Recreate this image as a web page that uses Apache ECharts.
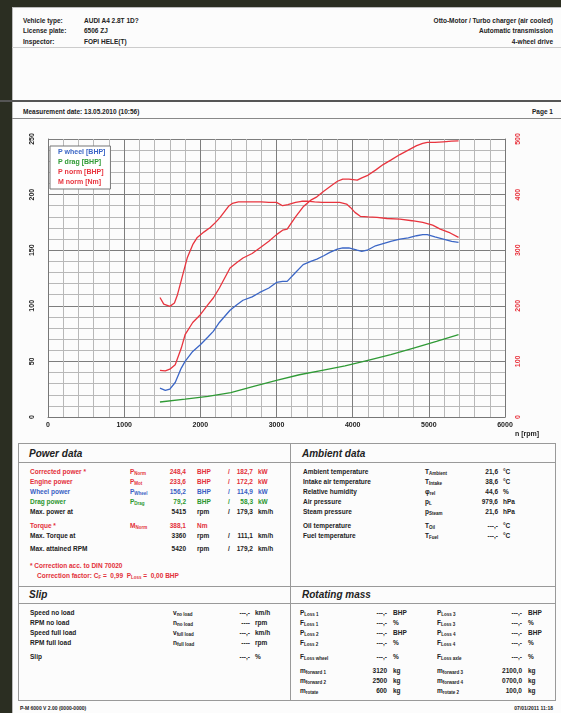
<!DOCTYPE html>
<html>
<head>
<meta charset="utf-8">
<script src="https://cdn.jsdelivr.net/npm/echarts@6/dist/echarts.min.js"></script>
<style>
  body { margin: 0; }
  #page { position: relative; width: 561px; height: 713px; overflow: hidden; background: #2b2e22; font-family: "Liberation Sans", Arial, sans-serif; }
  #paper { position: absolute; left: 12px; top: 7px; right: 0; bottom: 0; background: #fcfcfc; border-left: 1px solid #bbb; border-top: 1px solid #bbb; }
  .t { position: absolute; font-size: 6.5px; font-weight: bold; color: #222; white-space: nowrap; line-height: 8px; }
  .r { text-align: right; }
  .h { position: absolute; font-size: 10px; font-style: italic; font-weight: bold; color: #222; }
  .ln { position: absolute; background: #999; }
  .red { color: #e3303a; } .blue { color: #3a5fc4; } .green { color: #2a962e; }
  sub { font-size: 4.5px; vertical-align: -1px; }
  #chart { position: absolute; left: 0; top: 0; width: 561px; height: 713px; }
</style>
</head>
<body>
<div id="page">
  <div id="paper"></div>
  <!-- header -->
  <div class="t" style="left:23px;top:17px">Vehicle type:</div>
  <div class="t" style="left:84px;top:17px">AUDI A4 2.8T 1D?</div>
  <div class="t" style="left:23px;top:27px">License plate:</div>
  <div class="t" style="left:84px;top:27px">6506 ZJ</div>
  <div class="t" style="left:23px;top:38px">Inspector:</div>
  <div class="t" style="left:84px;top:38px">FOPI HELE(T)</div>
  <div class="t r" style="right:8px;top:17px">Otto-Motor / Turbo charger (air cooled)</div>
  <div class="t r" style="right:8px;top:27px">Automatic transmission</div>
  <div class="t r" style="right:8px;top:38px">4-wheel drive</div>
  <div class="ln" style="left:12px;right:0;top:47px;height:1px;background:#ccc"></div>
  <div class="ln" style="left:0;right:0;top:100px;height:2px;background:#555"></div>
  <div class="t" style="left:23px;top:108px">Measurement date: 13.05.2010 (10:56)</div>
  <div class="t r" style="right:8px;top:108px">Page 1</div>
  <div class="ln" style="left:12px;right:0;top:118px;height:1px;background:#888"></div>

  <!-- boxes -->
  <div class="ln" style="left:18px;width:538px;top:443px;height:1px"></div>
  <div class="ln" style="left:18px;width:538px;top:462px;height:1px"></div>
  <div class="ln" style="left:18px;width:538px;top:586px;height:1px"></div>
  <div class="ln" style="left:18px;width:538px;top:603px;height:1px"></div>
  <div class="ln" style="left:18px;width:538px;top:700px;height:1px"></div>
  <div class="ln" style="left:18px;width:1px;top:443px;height:258px"></div>
  <div class="ln" style="left:290px;width:1px;top:443px;height:258px"></div>
  <div class="ln" style="left:555px;width:1px;top:443px;height:258px"></div>

  <div class="h" style="left:29px;top:448px">Power data</div>
  <div class="t red" style="left:30px;top:468px">Corrected power *</div>
  <div class="t red" style="left:130px;top:468px">P<sub>Norm</sub></div>
  <div class="t red r" style="left:150px;width:36px;top:468px">248,4</div>
  <div class="t red" style="left:197px;top:468px">BHP</div>
  <div class="t red" style="left:228px;top:468px">/</div>
  <div class="t red r" style="left:220px;width:33px;top:468px">182,7</div>
  <div class="t red" style="left:258px;top:468px">kW</div>

  <div class="t red" style="left:30px;top:478px">Engine power</div>
  <div class="t red" style="left:130px;top:478px">P<sub>Mot</sub></div>
  <div class="t red r" style="left:150px;width:36px;top:478px">233,6</div>
  <div class="t red" style="left:197px;top:478px">BHP</div>
  <div class="t red" style="left:228px;top:478px">/</div>
  <div class="t red r" style="left:220px;width:33px;top:478px">172,2</div>
  <div class="t red" style="left:258px;top:478px">kW</div>

  <div class="t blue" style="left:30px;top:488px">Wheel power</div>
  <div class="t blue" style="left:130px;top:488px">P<sub>Wheel</sub></div>
  <div class="t blue r" style="left:150px;width:36px;top:488px">156,2</div>
  <div class="t blue" style="left:197px;top:488px">BHP</div>
  <div class="t blue" style="left:228px;top:488px">/</div>
  <div class="t blue r" style="left:220px;width:33px;top:488px">114,9</div>
  <div class="t blue" style="left:258px;top:488px">kW</div>

  <div class="t green" style="left:30px;top:498px">Drag power</div>
  <div class="t green" style="left:130px;top:498px">P<sub>Drag</sub></div>
  <div class="t green r" style="left:150px;width:36px;top:498px">79,2</div>
  <div class="t green" style="left:197px;top:498px">BHP</div>
  <div class="t green" style="left:228px;top:498px">/</div>
  <div class="t green r" style="left:220px;width:33px;top:498px">58,3</div>
  <div class="t green" style="left:258px;top:498px">kW</div>

  <div class="t" style="left:30px;top:508px">Max. power at</div>
  <div class="t r" style="left:150px;width:36px;top:508px">5415</div>
  <div class="t" style="left:197px;top:508px">rpm</div>
  <div class="t" style="left:228px;top:508px">/</div>
  <div class="t r" style="left:220px;width:33px;top:508px">179,3</div>
  <div class="t" style="left:258px;top:508px">km/h</div>

  <div class="t red" style="left:30px;top:522px">Torque *</div>
  <div class="t red" style="left:130px;top:522px">M<sub>Norm</sub></div>
  <div class="t red r" style="left:150px;width:36px;top:522px">388,1</div>
  <div class="t red" style="left:197px;top:522px">Nm</div>

  <div class="t" style="left:30px;top:532px">Max. Torque at</div>
  <div class="t r" style="left:150px;width:36px;top:532px">3360</div>
  <div class="t" style="left:197px;top:532px">rpm</div>
  <div class="t" style="left:228px;top:532px">/</div>
  <div class="t r" style="left:220px;width:33px;top:532px">111,1</div>
  <div class="t" style="left:258px;top:532px">km/h</div>

  <div class="t" style="left:30px;top:545px">Max. attained RPM</div>
  <div class="t r" style="left:150px;width:36px;top:545px">5420</div>
  <div class="t" style="left:197px;top:545px">rpm</div>
  <div class="t" style="left:228px;top:545px">/</div>
  <div class="t r" style="left:220px;width:33px;top:545px">179,2</div>
  <div class="t" style="left:258px;top:545px">km/h</div>

  <div class="t red" style="left:30px;top:562px">* Correction acc. to DIN 70020</div>
  <div class="t red" style="left:37px;top:572px">Correction factor: C<sub>F</sub> = &nbsp;0,99 &nbsp;P<sub>Loss</sub> = &nbsp;0,00 BHP</div>

  <div class="h" style="left:302px;top:448px">Ambient data</div>
  <div class="t" style="left:303px;top:468px">Ambient temperature</div>
  <div class="t" style="left:425px;top:468px">T<sub>Ambient</sub></div>
  <div class="t r" style="left:470px;width:28px;top:468px">21,6</div>
  <div class="t" style="left:503px;top:468px">°C</div>
  <div class="t" style="left:303px;top:478px">Intake air temperature</div>
  <div class="t" style="left:425px;top:478px">T<sub>Intake</sub></div>
  <div class="t r" style="left:470px;width:28px;top:478px">38,6</div>
  <div class="t" style="left:503px;top:478px">°C</div>
  <div class="t" style="left:303px;top:488px">Relative humidity</div>
  <div class="t" style="left:425px;top:488px">φ<sub>rel</sub></div>
  <div class="t r" style="left:470px;width:28px;top:488px">44,6</div>
  <div class="t" style="left:503px;top:488px">%</div>
  <div class="t" style="left:303px;top:498px">Air pressure</div>
  <div class="t" style="left:425px;top:498px">p<sub>L</sub></div>
  <div class="t r" style="left:470px;width:28px;top:498px">979,6</div>
  <div class="t" style="left:503px;top:498px">hPa</div>
  <div class="t" style="left:303px;top:508px">Steam pressure</div>
  <div class="t" style="left:425px;top:508px">p<sub>Steam</sub></div>
  <div class="t r" style="left:470px;width:28px;top:508px">21,6</div>
  <div class="t" style="left:503px;top:508px">hPa</div>
  <div class="t" style="left:303px;top:522px">Oil temperature</div>
  <div class="t" style="left:425px;top:522px">T<sub>Oil</sub></div>
  <div class="t r" style="left:470px;width:28px;top:522px">---,-</div>
  <div class="t" style="left:503px;top:522px">°C</div>
  <div class="t" style="left:303px;top:532px">Fuel temperature</div>
  <div class="t" style="left:425px;top:532px">T<sub>Fuel</sub></div>
  <div class="t r" style="left:470px;width:28px;top:532px">---,-</div>
  <div class="t" style="left:503px;top:532px">°C</div>

  <div class="h" style="left:29px;top:589px">Slip</div>
  <div class="t" style="left:30px;top:609px">Speed no load</div>
  <div class="t" style="left:173px;top:609px">v<sub>no load</sub></div>
  <div class="t r" style="left:220px;width:30px;top:609px">---,-</div>
  <div class="t" style="left:255px;top:609px">km/h</div>
  <div class="t" style="left:30px;top:619px">RPM no load</div>
  <div class="t" style="left:173px;top:619px">n<sub>no load</sub></div>
  <div class="t r" style="left:220px;width:30px;top:619px">----</div>
  <div class="t" style="left:255px;top:619px">rpm</div>
  <div class="t" style="left:30px;top:629px">Speed full load</div>
  <div class="t" style="left:173px;top:629px">v<sub>full load</sub></div>
  <div class="t r" style="left:220px;width:30px;top:629px">---,-</div>
  <div class="t" style="left:255px;top:629px">km/h</div>
  <div class="t" style="left:30px;top:639px">RPM full load</div>
  <div class="t" style="left:173px;top:639px">n<sub>full load</sub></div>
  <div class="t r" style="left:220px;width:30px;top:639px">----</div>
  <div class="t" style="left:255px;top:639px">rpm</div>
  <div class="t" style="left:30px;top:653px">Slip</div>
  <div class="t r" style="left:220px;width:30px;top:653px">---,-</div>
  <div class="t" style="left:255px;top:653px">%</div>

  <div class="h" style="left:302px;top:589px">Rotating mass</div>
  <div class="t" style="left:300px;top:609px">P<sub>Loss 1</sub></div>
  <div class="t r" style="left:355px;width:32px;top:609px">---,-</div>
  <div class="t" style="left:393px;top:609px">BHP</div>
  <div class="t" style="left:300px;top:619px">F<sub>Loss 1</sub></div>
  <div class="t r" style="left:355px;width:32px;top:619px">---,-</div>
  <div class="t" style="left:393px;top:619px">%</div>
  <div class="t" style="left:300px;top:629px">P<sub>Loss 2</sub></div>
  <div class="t r" style="left:355px;width:32px;top:629px">---,-</div>
  <div class="t" style="left:393px;top:629px">BHP</div>
  <div class="t" style="left:300px;top:639px">F<sub>Loss 2</sub></div>
  <div class="t r" style="left:355px;width:32px;top:639px">---,-</div>
  <div class="t" style="left:393px;top:639px">%</div>
  <div class="t" style="left:300px;top:653px">F<sub>Loss wheel</sub></div>
  <div class="t r" style="left:355px;width:32px;top:653px">---,-</div>
  <div class="t" style="left:393px;top:653px">%</div>
  <div class="t" style="left:300px;top:667px">m<sub>forward 1</sub></div>
  <div class="t r" style="left:355px;width:32px;top:667px">3120</div>
  <div class="t" style="left:393px;top:667px">kg</div>
  <div class="t" style="left:300px;top:677px">m<sub>forward 2</sub></div>
  <div class="t r" style="left:355px;width:32px;top:677px">2500</div>
  <div class="t" style="left:393px;top:677px">kg</div>
  <div class="t" style="left:300px;top:687px">m<sub>rotate</sub></div>
  <div class="t r" style="left:355px;width:32px;top:687px">600</div>
  <div class="t" style="left:393px;top:687px">kg</div>

  <div class="t" style="left:437px;top:609px">P<sub>Loss 3</sub></div>
  <div class="t r" style="left:490px;width:32px;top:609px">---,-</div>
  <div class="t" style="left:528px;top:609px">BHP</div>
  <div class="t" style="left:437px;top:619px">F<sub>Loss 3</sub></div>
  <div class="t r" style="left:490px;width:32px;top:619px">---,-</div>
  <div class="t" style="left:528px;top:619px">%</div>
  <div class="t" style="left:437px;top:629px">P<sub>Loss 4</sub></div>
  <div class="t r" style="left:490px;width:32px;top:629px">---,-</div>
  <div class="t" style="left:528px;top:629px">BHP</div>
  <div class="t" style="left:437px;top:639px">F<sub>Loss 4</sub></div>
  <div class="t r" style="left:490px;width:32px;top:639px">---,-</div>
  <div class="t" style="left:528px;top:639px">%</div>
  <div class="t" style="left:437px;top:653px">F<sub>Loss axle</sub></div>
  <div class="t r" style="left:490px;width:32px;top:653px">---,-</div>
  <div class="t" style="left:528px;top:653px">%</div>
  <div class="t" style="left:437px;top:667px">m<sub>forward 3</sub></div>
  <div class="t r" style="left:490px;width:32px;top:667px">2100,0</div>
  <div class="t" style="left:528px;top:667px">kg</div>
  <div class="t" style="left:437px;top:677px">m<sub>forward 4</sub></div>
  <div class="t r" style="left:490px;width:32px;top:677px">0700,0</div>
  <div class="t" style="left:528px;top:677px">kg</div>
  <div class="t" style="left:437px;top:687px">m<sub>rotate 2</sub></div>
  <div class="t r" style="left:490px;width:32px;top:687px">100,0</div>
  <div class="t" style="left:528px;top:687px">kg</div>

  <div class="t" style="left:20px;top:704px;font-size:5px">P-M 6000 V 2.00 (0000-0000)</div>
  <div class="t r" style="right:8px;top:704px;font-size:5px">07/01/2011 11:18</div>

  <div id="chart"></div>
</div>
<script>
// engine speed samples (rpm) for the power curves
var rpmPower = [1470,1540,1600,1670,1750,1800,1900,2000,2100,2170,2250,2390,2480,2560,2680,2780,2900,3000,3080,3140,3250,3350,3450,3530,3620,3700,3800,3870,3950,4060,4120,4190,4300,4400,4500,4620,4730,4840,4920,4980,5080,5190,5300,5390];
var pNorm  = [42,41.5,43,47,62,74,85,92,101,107,116,134,139,143,147,152,158,164,168,169,180,189,195,198,203,207,212,214,214,213,215,217,222,227,231,236,240,244,246,247,247,247.5,248,248.4];
var pWheel = [26,24,25,31,44,50,59,65,72,77,85,96,101,105,108,112,116,121,122,122,130,137,140,142,145,148,151,152,152,150,149,150,154,156,158,160,161,163,164,164,162,160,158,157];
var rpmDrag = [1470,1800,2100,2400,2700,3000,3300,3600,3900,4200,4500,4800,5100,5390];
var pDrag   = [13.5,16,18.5,22,27.5,33,38,42,46,51,56,62,68,74];
var rpmTorque = [1470,1520,1600,1660,1700,1760,1830,1900,1960,2050,2130,2200,2260,2320,2370,2420,2500,2600,2700,2800,2900,3000,3080,3150,3250,3330,3400,3500,3600,3700,3830,3920,3970,4030,4100,4200,4320,4450,4620,4780,4920,5050,5150,5280,5390];
var mNorm = [215,203,199,205,220,251,287,310,323,333,341,350,359,370,379,384,387,387,387,387,386,386,380,382,386,388,388.1,387,386,386,386,383,377,368,361,360,359,357,356,353,350,345,338,331,323];
var legendNames = ['P wheel [BHP]','P drag [BHP]','P norm [BHP]','M norm [Nm]'];

var RED = '#e8343e', BLUE = '#3b66c6', GREEN = '#2f9a35';

function pairs(xs, ys) {
  return xs.map(function (x, i) { return [x, ys[i]]; });
}

var chart = echarts.init(document.getElementById('chart'));
var lbl = { fontFamily: 'Liberation Sans', fontSize: 7, fontWeight: 'bold', color: '#222',
  formatter: function (v) { return String(v); } };
var minorTick = { show: true, splitNumber: 5, length: 0, lineStyle: { width: 0 } };
var minorLine = { show: true, lineStyle: { color: '#b8b8b8', width: 1 } };
var majorLine = { show: true, lineStyle: { color: '#7d7d7d', width: 1 } };

var option = {
  animation: false,
  grid: { left: 48, top: 139, width: 457, height: 278 },
  legend: {
    orient: 'vertical', left: 50, top: 146,
    itemWidth: 0, itemHeight: 0, itemGap: 3,
    padding: [3, 5, 3, 2],
    backgroundColor: '#fff', borderColor: '#777', borderWidth: 1,
    textStyle: { fontFamily: 'Liberation Sans', fontSize: 7, fontWeight: 'bold' },
    data: [
      { name: legendNames[0], textStyle: { color: BLUE } },
      { name: legendNames[1], textStyle: { color: GREEN } },
      { name: legendNames[2], textStyle: { color: RED } },
      { name: legendNames[3], textStyle: { color: RED } }
    ]
  },
  graphic: [{
    type: 'text', left: 515, top: 431,
    style: { text: 'n [rpm]', font: 'bold 7px "Liberation Sans"', fill: '#222' }
  }],
  xAxis: {
    type: 'value', min: 0, max: 6000, interval: 1000,
    axisLine: { lineStyle: { color: '#777' } },
    axisTick: { show: false },
    axisLabel: Object.assign({}, lbl, { margin: 5 }),
    splitLine: majorLine,
    minorTick: minorTick,
    minorSplitLine: minorLine
  },
  yAxis: [{
    type: 'value', min: 0, max: 250, interval: 50,
    axisLine: { show: true, lineStyle: { color: '#777' } },
    axisTick: { show: false },
    axisLabel: Object.assign({}, lbl, { rotate: 90, margin: 12 }),
    splitLine: majorLine,
    minorTick: minorTick,
    minorSplitLine: minorLine
  }, {
    type: 'value', min: 0, max: 500, interval: 100, position: 'right',
    axisLine: { show: true, lineStyle: { color: '#777' } },
    axisTick: { show: false },
    axisLabel: Object.assign({}, lbl, { rotate: 90, margin: 10, color: RED }),
    splitLine: { show: false }
  }],
  series: [
    { name: legendNames[0], type: 'line', yAxisIndex: 0, data: pairs(rpmPower, pWheel), z: 3,
      showSymbol: false, lineStyle: { color: BLUE, width: 1.3 }, itemStyle: { color: BLUE } },
    { name: legendNames[1], type: 'line', yAxisIndex: 0, data: pairs(rpmDrag, pDrag), z: 3,
      showSymbol: false, lineStyle: { color: GREEN, width: 1.3 }, itemStyle: { color: GREEN } },
    { name: legendNames[2], type: 'line', yAxisIndex: 0, data: pairs(rpmPower, pNorm), z: 3,
      showSymbol: false, lineStyle: { color: RED, width: 1.3 }, itemStyle: { color: RED } },
    { name: legendNames[3], type: 'line', yAxisIndex: 1, data: pairs(rpmTorque, mNorm), z: 3,
      showSymbol: false, lineStyle: { color: RED, width: 1.3 }, itemStyle: { color: RED } }
  ]
};
chart.setOption(option);
</script>
</body>
</html>
